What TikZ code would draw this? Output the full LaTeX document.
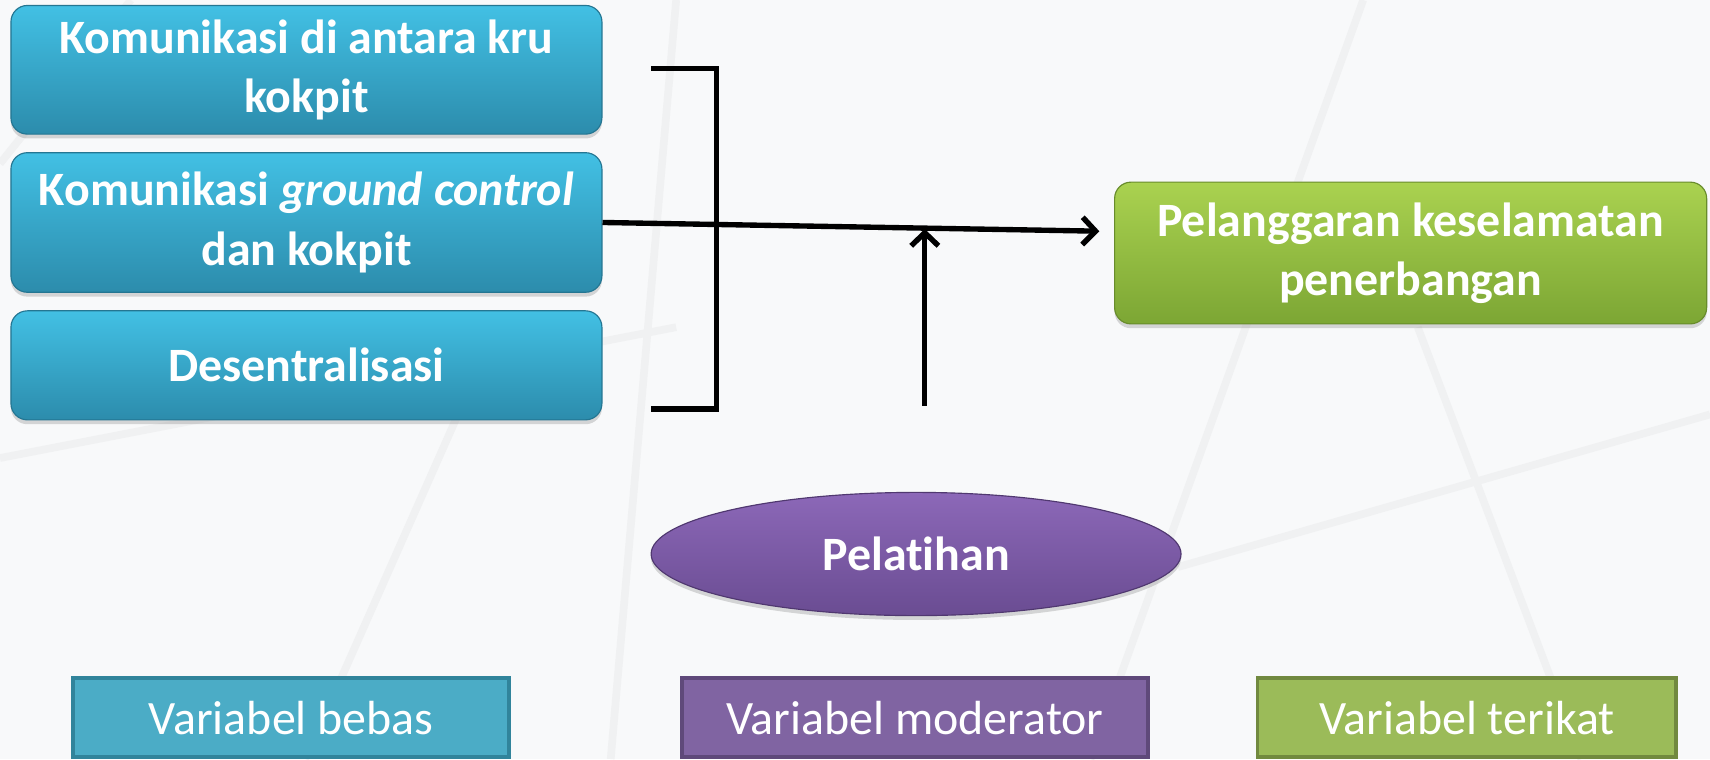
\documentclass[tikz,border=0pt]{standalone}
\usepackage{fontspec}
\setmainfont[Ligatures={NoCommon}]{Carlito}
\usetikzlibrary{arrows.meta,shapes.geometric,shadows}
\definecolor{bgc}{RGB}{248,249,250}
\definecolor{bluetop}{RGB}{66,192,228}
\definecolor{bluebot}{RGB}{44,140,172}
\definecolor{blueedge}{RGB}{36,118,146}
\definecolor{greentop}{RGB}{170,210,80}
\definecolor{greenbot}{RGB}{124,166,52}
\definecolor{greenedge}{RGB}{104,140,44}
\definecolor{purtop}{RGB}{140,104,184}
\definecolor{purbot}{RGB}{106,76,146}
\definecolor{puredge}{RGB}{80,56,112}
\definecolor{legblue}{RGB}{75,172,198}
\definecolor{legblueedge}{RGB}{49,132,155}
\definecolor{legpur}{RGB}{128,100,162}
\definecolor{legpuredge}{RGB}{95,73,122}
\definecolor{leggreen}{RGB}{155,187,89}
\definecolor{leggreenedge}{RGB}{113,137,63}
\definecolor{bgline}{RGB}{240,241,242}
\tikzset{
  boxtext/.style={text=white, align=center, font=\fontsize{25}{31}\selectfont\bfseries},
  bluebox/.style={boxtext, rectangle, rounded corners=0.3cm, draw=blueedge, line width=0.6pt,
    top color=bluetop, bottom color=bluebot, minimum width=10.84cm,
    drop shadow={shadow xshift=0cm, shadow yshift=-0.08cm, opacity=0.3}},
  greenbox/.style={boxtext, rectangle, rounded corners=0.3cm, draw=greenedge, line width=0.6pt,
    top color=greentop, bottom color=greenbot, minimum width=10.86cm, minimum height=2.6cm,
    drop shadow={shadow xshift=0cm, shadow yshift=-0.08cm, opacity=0.3}},
  purell/.style={boxtext, ellipse, draw=puredge, line width=0.6pt, inner sep=0pt,
    top color=purtop, bottom color=purbot, minimum width=9.72cm, minimum height=2.26cm,
    drop shadow={shadow xshift=0cm, shadow yshift=-0.08cm, opacity=0.3}},
  legend/.style={text=white, font=\fontsize{25}{28}\selectfont, minimum height=1.46cm, line width=2pt},
  conn/.style={line width=2.8pt, black},
  arr/.style={conn, -{Straight Barb[length=0.24cm, width=0.5cm, line width=2.8pt]}},
  bgl/.style={bgline, line width=0.14cm}
}
\begin{document}
\begin{tikzpicture}[x=0.02cm, y=-0.02cm]
\fill[bgc] (0,0) rectangle (1568,696);
\useasboundingbox (0,0) rectangle (1568,696);

% faint background lines
\draw[bgl] (120,0) -- (0,150);
\draw[bgl] (620,0) -- (560,696);
\draw[bgl] (1250,0) -- (1000,696);
\draw[bgl] (0,420) -- (620,300);
\draw[bgl] (1568,380) -- (1080,520);
\draw[bgl] (280,696) -- (420,380);
\draw[bgl] (1450,696) -- (1300,300);

% variable boxes
\node[bluebox, minimum height=2.36cm] (b1) at (281,64) {Komunikasi di antara kru\\kokpit};
\node[bluebox, minimum height=2.56cm] (b2) at (281,204) {Komunikasi \textit{ground control}\\dan kokpit};
\node[bluebox, minimum height=2.0cm] (b3) at (281,335) {Desentralisasi};
\node[greenbox] (g) at (1293.5,232) {Pelanggaran keselamatan\\penerbangan};
\node[purell] (p) at (840,508) {Pelatihan};

% bracket
\coordinate (br1) at (597,63);
\coordinate (br2) at (657,63);
\coordinate (br3) at (657,375);
\coordinate (br4) at (597,375);
\draw[conn] (br1) -- (br2) -- (br3) -- (br4);

% arrows
\coordinate (tip) at (1008,212);
\coordinate (ms) at (848,372);
\coordinate (mt) at (848,210);
\draw[arr] (b2.east) -- (tip);
\draw[arr] (ms) -- (mt);

% legend
\node[legend, fill=legblue, draw=legblueedge, minimum width=8cm] (l1) at (267,658) {Variabel bebas};
\node[legend, fill=legpur, draw=legpuredge, minimum width=8.56cm] (l2) at (839,658) {Variabel moderator};
\node[legend, fill=leggreen, draw=leggreenedge, minimum width=7.68cm] (l3) at (1345,658) {Variabel terikat};
\end{tikzpicture}
\end{document}
